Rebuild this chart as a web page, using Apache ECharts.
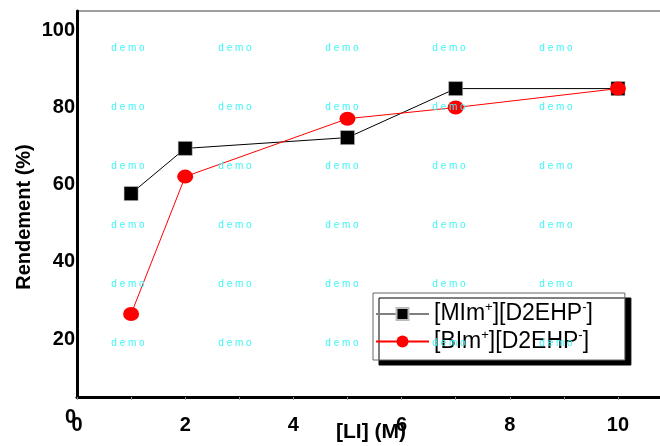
<!DOCTYPE html>
<html>
<head>
<meta charset="utf-8">
<script src="https://cdn.jsdelivr.net/npm/echarts@6/dist/echarts.min.js"></script>
<style>
  html, body { margin: 0; padding: 0; background: #fff; }
  #main { width: 660px; height: 446px; }
</style>
</head>
<body>
<div id="main"></div>
<script>
// data
var xValues = [1, 2, 5, 7, 10];
var mimValues = [57.7, 69.4, 72.2, 84.9, 84.9];
var bimValues = [26.5, 62.1, 77.1, 80.0, 84.9];
var xTickLabels = [0, 2, 4, 6, 8, 10];
var xMinorTicks = [0, 1, 2, 3, 4, 5, 6, 7, 8, 9, 10];
var yTickLabels = [20, 40, 60, 80, 100];

// watermark grid
var wmCols = [128, 235, 342, 449, 556];
var wmRows = [48, 107, 166, 225, 284, 343];

var font = "'Liberation Sans', Arial, sans-serif";

function pairs(xs, ys) {
    var out = [];
    for (var i = 0; i < xs.length; i++) {
        out.push([xs[i], ys[i]]);
    }
    return out;
}

var graphics = [];
wmRows.forEach(function (y) {
    wmCols.forEach(function (x) {
        graphics.push({
            type: 'text', x: x, y: y, silent: true, z: 100,
            style: {
                text: 'd e m o', fill: '#3ff5f5', font: '10px ' + font,
                textAlign: 'center', textVerticalAlign: 'middle'
            }
        });
    });
});
// the lone "0" of the y axis, sitting under the x axis line
graphics.push({
    type: 'text', x: 76, y: 417,
    style: {
        text: '0', fill: '#000', font: 'bold 20px ' + font,
        textAlign: 'right', textVerticalAlign: 'middle'
    }
});

var legendNames = {
    'MIm': '{t|[MIm}{s|+}{t|][D2EHP}{s|-}{t|]}',
    'BIm': '{t|[BIm}{s|+}{t|][D2EHP}{s|-}{t|]}'
};

var chart = echarts.init(document.getElementById('main'));
var option = {
    animation: false,
    backgroundColor: '#fff',
    grid: {
        left: 77,
        top: 11,
        right: -5,
        bottom: 49,
        outerBoundsMode: 'none',
        containLabel: false,
        show: true,
        borderColor: '#808080',
        borderWidth: 1.5
    },
    legend: {
        orient: 'vertical',
        left: 373,
        top: 293,
        padding: [8, 32, 7, 2],
        itemGap: 3,
        itemWidth: 53,
        itemHeight: 15,
        backgroundColor: '#fff',
        borderColor: '#666',
        borderWidth: 1,
        shadowColor: '#000',
        shadowBlur: 0,
        shadowOffsetX: 6,
        shadowOffsetY: 5,
        data: [
            { name: 'MIm', lineStyle: { color: '#808080' } },
            { name: 'BIm' }
        ],
        formatter: function (name) {
            return legendNames[name];
        },
        textStyle: {
            rich: {
                t: { fontSize: 23, fontFamily: font, color: '#000', lineHeight: 24 },
                s: { fontSize: 13, fontFamily: font, color: '#000', padding: [0, 0, 13, 0] }
            }
        }
    },
    xAxis: {
        type: 'value',
        min: 0,
        max: 10.87,
        name: '[LI] (M)',
        nameLocation: 'middle',
        nameGap: 25,
        nameMoveOverlap: false,
        nameTextStyle: {
            fontSize: 21, fontWeight: 'bold', fontFamily: font, color: '#000',
            verticalAlign: 'top'
        },
        axisLine: { onZero: false, lineStyle: { color: '#000', width: 3 } },
        axisTick: {
            show: true, length: 3, customValues: xMinorTicks,
            lineStyle: { color: '#999', width: 1 }
        },
        axisLabel: {
            customValues: xTickLabels,
            margin: 18,
            fontSize: 20, fontWeight: 'bold', fontFamily: font, color: '#000'
        },
        splitLine: { show: false }
    },
    yAxis: {
        type: 'value',
        min: 5,
        max: 105,
        name: 'Rendement (%)',
        nameLocation: 'middle',
        nameGap: 43,
        nameMoveOverlap: false,
        nameTextStyle: {
            fontSize: 20, fontWeight: 'bold', fontFamily: font, color: '#000',
            padding: [0, 26, 0, 0]
        },
        axisLine: { onZero: false, lineStyle: { color: '#000', width: 3 } },
        axisTick: { show: false },
        axisLabel: {
            customValues: yTickLabels,
            margin: 2,
            padding: [4, 0, 0, 0],
            fontSize: 20, fontWeight: 'bold', fontFamily: font, color: '#000'
        },
        splitLine: { show: false }
    },
    graphic: graphics,
    series: [
        {
            name: 'MIm',
            type: 'line',
            data: pairs(xValues, mimValues),
            symbol: 'rect',
            symbolSize: 14,
            lineStyle: { color: '#000', width: 1 },
            itemStyle: { color: '#000', borderColor: '#bbb', borderWidth: 0.5 }
        },
        {
            name: 'BIm',
            type: 'line',
            data: pairs(xValues, bimValues),
            symbol: 'circle',
            symbolSize: [16, 14],
            lineStyle: { color: '#ff0000', width: 1 },
            itemStyle: { color: '#ff0000', borderWidth: 0 }
        }
    ]
};
chart.setOption(option);
</script>
</body>
</html>
